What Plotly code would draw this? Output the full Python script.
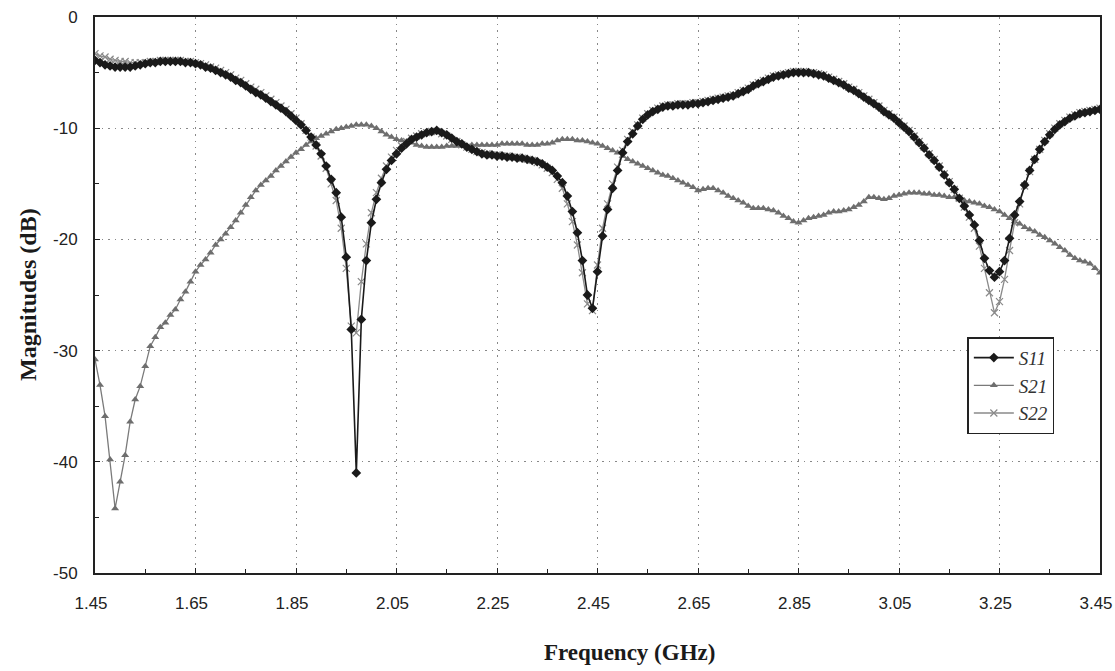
import numpy as np
import plotly.graph_objects as go

# Frequency grid (GHz), 0.01 GHz steps from 1.45 to 3.45
freq = np.round(1.45 + 0.01 * np.arange(201), 2)

s11 = [
    -3.9, -4.1, -4.3, -4.4, -4.5, -4.5, -4.5, -4.5, -4.4, -4.3,
    -4.2, -4.1, -4.1, -4.0, -4.0, -4.0, -4.0, -4.0, -4.1, -4.1,
    -4.2, -4.3, -4.5, -4.6, -4.8, -5.0, -5.2, -5.4, -5.7, -5.9,
    -6.2, -6.5, -6.8, -7.0, -7.3, -7.6, -7.9, -8.2, -8.5, -8.9,
    -9.3, -9.7, -10.2, -10.8, -11.5, -12.3, -13.4, -14.6, -15.8, -18.0,
    -21.6, -28.1, -41.0, -27.2, -21.9, -18.5, -16.4, -14.9, -13.7, -12.9,
    -12.3, -11.8, -11.4, -11.0, -10.8, -10.6, -10.4, -10.3, -10.2, -10.4,
    -10.6, -10.9, -11.2, -11.4, -11.7, -11.9, -12.1, -12.3, -12.4, -12.4,
    -12.5, -12.5, -12.6, -12.6, -12.7, -12.7, -12.8, -12.9, -13.0, -13.2,
    -13.5, -13.8, -14.3, -14.9, -16.1, -17.5, -19.4, -21.9, -25.0, -26.2,
    -22.9, -19.7, -17.3, -15.4, -13.8, -12.2, -11.2, -10.5, -9.8, -9.2,
    -8.8, -8.5, -8.3, -8.1, -8.0, -8.0, -7.9, -7.9, -7.9, -7.8,
    -7.8, -7.7, -7.6, -7.5, -7.4, -7.3, -7.2, -7.1, -6.9, -6.7,
    -6.5, -6.2, -6.0, -5.8, -5.6, -5.4, -5.3, -5.2, -5.1, -5.0,
    -5.0, -5.0, -5.0, -5.1, -5.2, -5.3, -5.5, -5.7, -5.9, -6.1,
    -6.4, -6.6, -6.9, -7.2, -7.5, -7.8, -8.1, -8.5, -8.8, -9.1,
    -9.5, -9.9, -10.3, -10.8, -11.3, -11.8, -12.4, -12.9, -13.5, -14.2,
    -14.9, -15.5, -16.3, -17.0, -17.8, -18.7, -20.1, -21.7, -22.8, -23.4,
    -22.9, -21.9, -19.9, -17.8, -16.6, -15.1, -13.8, -12.8, -11.9, -11.2,
    -10.6, -10.1, -9.7, -9.4, -9.1, -8.9, -8.7, -8.6, -8.5, -8.4,
    -8.3,
]

s21 = [
    -30.8, -33.1, -35.9, -39.8, -44.2, -41.8, -39.4, -36.4, -34.4, -33.2,
    -31.4, -29.6, -28.8, -27.9, -27.5, -26.8, -26.3, -25.4, -24.7, -23.8,
    -22.9, -22.3, -21.8, -21.2, -20.5, -20.0, -19.5, -18.9, -18.3, -17.6,
    -16.9, -16.2, -15.6, -15.1, -14.7, -14.3, -13.8, -13.4, -13.0, -12.6,
    -12.2, -11.9, -11.5, -11.2, -10.9, -10.7, -10.5, -10.3, -10.1, -10.0,
    -9.9, -9.8, -9.7, -9.7, -9.7, -9.8, -10.0, -10.3, -10.6, -10.8,
    -11.0, -11.1, -11.2, -11.3, -11.5, -11.6, -11.7, -11.7, -11.7, -11.7,
    -11.6, -11.6, -11.6, -11.6, -11.6, -11.5, -11.5, -11.5, -11.5, -11.5,
    -11.5, -11.4, -11.4, -11.4, -11.4, -11.4, -11.5, -11.5, -11.5, -11.4,
    -11.4, -11.3, -11.1, -11.0, -11.0, -11.0, -11.1, -11.1, -11.2, -11.3,
    -11.4, -11.6, -11.8, -12.0, -12.2, -12.5, -12.8, -13.0, -13.2, -13.4,
    -13.6, -13.8, -14.0, -14.2, -14.3, -14.5, -14.7, -14.9, -15.1, -15.3,
    -15.6, -15.5, -15.4, -15.4, -15.6, -15.8, -16.1, -16.3, -16.5, -16.7,
    -17.0, -17.2, -17.2, -17.2, -17.3, -17.4, -17.6, -17.9, -18.1, -18.4,
    -18.5, -18.3, -18.1, -18.0, -17.9, -17.8, -17.6, -17.5, -17.5, -17.4,
    -17.3, -17.1, -16.9, -16.6, -16.2, -16.2, -16.3, -16.4, -16.3, -16.1,
    -16.0, -15.9, -15.8, -15.8, -15.8, -15.9, -15.9, -16.0, -16.0, -16.1,
    -16.2, -16.2, -16.4, -16.5, -16.6, -16.7, -16.8, -17.0, -17.1, -17.3,
    -17.5, -17.8, -18.1, -18.4, -18.6, -18.9, -19.1, -19.3, -19.6, -19.8,
    -20.1, -20.4, -20.7, -21.0, -21.4, -21.7, -21.9, -22.0, -22.2, -22.6,
    -23.0,
]

s22 = [
    -3.3, -3.5, -3.6, -3.8, -3.9, -4.0, -4.0, -4.1, -4.1, -4.1,
    -4.1, -4.0, -4.0, -3.9, -3.9, -3.9, -3.9, -3.9, -4.0, -4.0,
    -4.1, -4.2, -4.3, -4.5, -4.6, -4.8, -5.0, -5.2, -5.5, -5.7,
    -6.0, -6.3, -6.5, -6.8, -7.1, -7.4, -7.7, -8.0, -8.3, -8.7,
    -9.1, -9.6, -10.2, -10.8, -11.6, -12.5, -13.6, -15.0, -16.5, -19.0,
    -22.6, -27.8, -28.4, -23.8, -20.4, -17.6, -15.8, -14.5, -13.4, -12.6,
    -12.0, -11.6, -11.2, -10.9, -10.7, -10.5, -10.4, -10.3, -10.3, -10.5,
    -10.7, -11.0, -11.2, -11.5, -11.7, -11.9, -12.1, -12.2, -12.3, -12.4,
    -12.4, -12.5, -12.5, -12.6, -12.6, -12.7, -12.8, -12.9, -13.1, -13.3,
    -13.6, -14.0, -14.6, -15.4, -16.8, -18.4, -20.5, -23.0, -25.8, -26.4,
    -22.3, -19.0, -16.8, -15.0, -13.5, -12.0, -11.0, -10.3, -9.7, -9.1,
    -8.7, -8.4, -8.2, -8.0, -7.9, -7.9, -7.8, -7.8, -7.8, -7.7,
    -7.7, -7.6, -7.5, -7.4, -7.3, -7.2, -7.1, -7.0, -6.8, -6.6,
    -6.4, -6.1, -5.9, -5.7, -5.5, -5.3, -5.2, -5.1, -5.0, -4.9,
    -4.9, -4.9, -5.0, -5.0, -5.1, -5.2, -5.4, -5.6, -5.8, -6.0,
    -6.3, -6.5, -6.8, -7.1, -7.4, -7.7, -8.0, -8.4, -8.7, -9.0,
    -9.4, -9.8, -10.2, -10.7, -11.2, -11.7, -12.3, -12.8, -13.4, -14.1,
    -14.8, -15.5, -16.3, -17.1, -18.0, -19.0, -20.6, -22.6, -24.8, -26.6,
    -25.6, -23.6, -21.0, -18.5, -16.8, -15.2, -13.9, -12.8, -11.9, -11.1,
    -10.5, -10.0, -9.6, -9.3, -9.0, -8.8, -8.6, -8.5, -8.4, -8.3,
    -8.2,
]

x_ticks = [1.45, 1.65, 1.85, 2.05, 2.25, 2.45, 2.65, 2.85, 3.05, 3.25, 3.45]
y_ticks = [0, -10, -20, -30, -40, -50]

fig = go.Figure()
fig.add_trace(go.Scatter(
    x=freq, y=s21, name="<i>S21</i>", mode="lines+markers", legendrank=2,
    line=dict(color="#7a7a7a", width=1.3),
    marker=dict(symbol="triangle-up", size=7, color="#6e6e6e"),
))
fig.add_trace(go.Scatter(
    x=freq, y=s22, name="<i>S22</i>", mode="lines+markers", legendrank=3,
    line=dict(color="#8a8a8a", width=1.3),
    marker=dict(symbol="x-thin-open", size=7, line=dict(color="#8a8a8a", width=1.2)),
))
fig.add_trace(go.Scatter(
    x=freq, y=s11, name="<i>S11</i>", mode="lines+markers", legendrank=1,
    line=dict(color="#1a1a1a", width=1.6),
    marker=dict(symbol="diamond", size=7.5, color="#1a1a1a"),
))

fig.update_layout(
    width=1115, height=671,
    margin=dict(l=95, r=15, t=17, b=98),
    paper_bgcolor="white",
    plot_bgcolor="white",
    showlegend=True,
    legend=dict(
        x=0.868, y=0.424, xanchor="left", yanchor="top",
        bgcolor="white", bordercolor="#222", borderwidth=1.5,
        font=dict(family="Liberation Serif", size=19, color="#333"),
        traceorder="normal",
        itemwidth=40,
    ),
    font=dict(family="Liberation Sans", color="#222"),
)

fig.update_xaxes(
    range=[1.45, 3.45], tickvals=x_ticks, ticktext=[f"{v:.2f}" for v in x_ticks],
    showline=True, linecolor="#222", linewidth=2, mirror=True,
    showgrid=True, gridcolor="#888888", griddash="1.5px,5px", gridwidth=1.2,
    ticks="inside", ticklen=5, tickcolor="#222",
    minor=dict(tickvals=[1.55, 1.75, 1.95, 2.15, 2.35, 2.55, 2.75, 2.95, 3.15, 3.35],
               ticks="inside", ticklen=4, tickcolor="#222", showgrid=False),
    tickfont=dict(size=17, color="#222"),
    ticklabelstandoff=14,
    ticklabelshift=-4,
    ticklabeloverflow="allow",
    automargin=False,
    zeroline=False,
)
fig.update_yaxes(
    range=[-50, 0], tickvals=y_ticks, ticktext=[str(v) for v in y_ticks],
    showline=True, linecolor="#222", linewidth=2, mirror=True,
    showgrid=True, gridcolor="#888888", griddash="1.5px,5px", gridwidth=1.2,
    ticks="inside", ticklen=5, tickcolor="#222",
    minor=dict(tickvals=[-5, -15, -25, -35, -45],
               ticks="inside", ticklen=4, tickcolor="#222", showgrid=False),
    tickfont=dict(size=17, color="#222"),
    ticklabelstandoff=12,
    ticklabeloverflow="allow",
    automargin=False,
    zeroline=False,
)

fig.add_annotation(
    text="<b>Frequency (GHz)</b>", xref="paper", yref="paper",
    x=(629 - 95) / 1005, y=-(652 - 573) / 556, xanchor="center", yanchor="middle",
    showarrow=False, font=dict(family="Liberation Serif", size=23, color="#1a1a1a"),
)
fig.add_annotation(
    text="<b>Magnitudes (dB)</b>", xref="paper", yref="paper",
    x=-(95 - 28) / 1005, y=(573 - 295) / 556, xanchor="center", yanchor="middle",
    textangle=-90,
    showarrow=False, font=dict(family="Liberation Serif", size=24, color="#1a1a1a"),
)

fig.write_html("out.html")
